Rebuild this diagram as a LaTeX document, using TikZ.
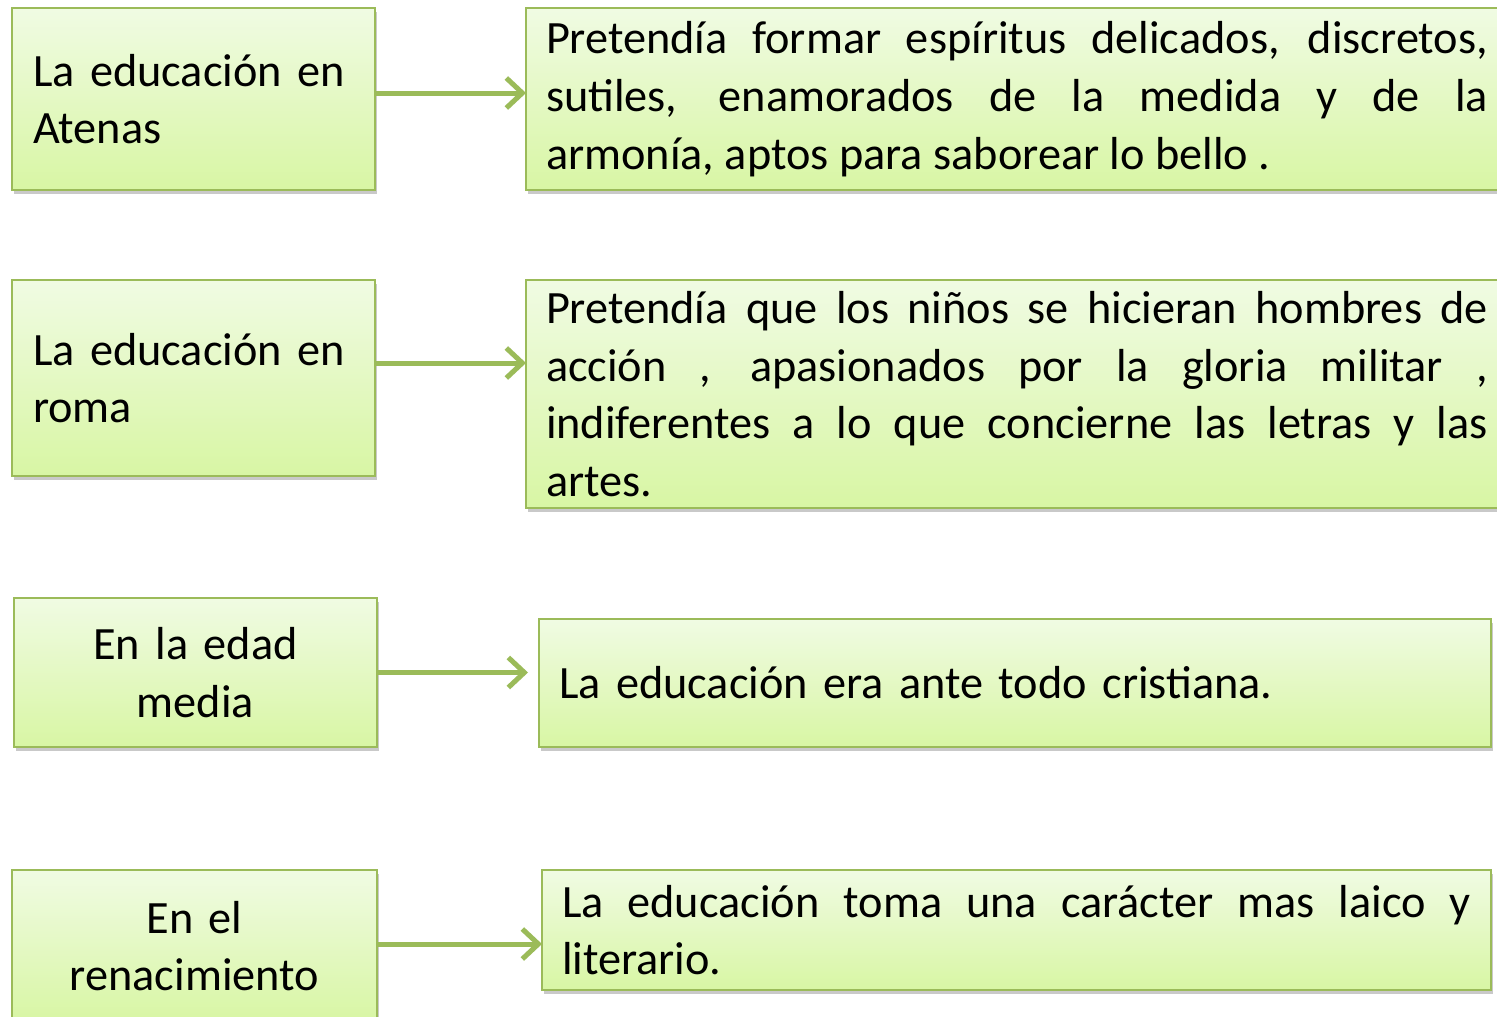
\documentclass[tikz,border=0pt]{standalone}
\usepackage{fontspec}
\setmainfont{Carlito}
\usetikzlibrary{arrows.meta,shadows}
\definecolor{boxtop}{HTML}{F0FBE3}
\definecolor{boxbot}{HTML}{D8F6A4}
\definecolor{boxline}{HTML}{9BBB59}
\tikzset{
  box/.style={anchor=north west, draw=boxline, line width=2.5pt, top color=boxtop, bottom color=boxbot,
    outer sep=0pt, inner ysep=0pt, font=\fontsize{46.3}{57.7}\selectfont,
    drop shadow={shadow xshift=2pt, shadow yshift=-4pt, opacity=0.35, fill=black!60}},
  lbox/.style={box, inner xsep=21pt},
  rbox/.style={box, inner xsep=20pt, align=justify},
  conn/.style={draw=boxline, line width=5pt, -{Straight Barb[length=16pt,width=30pt]}}
}
\begin{document}
\begin{tikzpicture}[x=1pt,y=-1pt]
\clip (0,0) rectangle (1497,1017);
\fill[white] (0,0) rectangle (1497,1017);
% left boxes
\node[lbox, minimum width=363pt, minimum height=182pt, text width=321pt, align=left] (la) at (12,8) {La educación en\\Atenas};
\node[lbox, minimum width=363pt, minimum height=196pt, text width=321pt, align=left] (lb) at (12,280) {La educación en\\roma};
\node[lbox, minimum width=363pt, minimum height=149pt, text width=321pt, align=center] (lc) at (14,598) {En la edad\\media};
\node[lbox, minimum width=365pt, minimum height=152pt, text width=323pt, align=center] (ld) at (12,870) {En el\\renacimiento};
% right boxes
\node[rbox, minimum width=982pt, minimum height=182pt, text width=942pt] (ra) at (526,8)
 {Pretendía formar espíritus delicados, discretos,\linebreak sutiles, enamorados de la medida y de la\linebreak armonía, aptos para saborear lo bello .};
\node[rbox, minimum width=982pt, minimum height=228pt, text width=942pt] (rb) at (526,280)
 {Pretendía que los niños se hicieran hombres de\linebreak acción , apasionados por la gloria militar ,\linebreak indiferentes a lo que concierne las letras y las\linebreak artes.};
\node[rbox, minimum width=952pt, minimum height=128pt, text width=912pt, align=left] (rc) at (539,619)
 {La educación era ante todo cristiana.};
\node[rbox, minimum width=949pt, minimum height=120pt, text width=909pt] (rd) at (542,870)
 {La educación toma una carácter mas laico y\linebreak literario.};
% connectors
\draw[conn] ([yshift=6pt]la.east) -- ([yshift=6pt]la.east -| ra.west);
\draw[conn] ([yshift=15pt]lb.east) -- ([yshift=15pt]lb.east -| rb.west);
\draw[conn, shorten >=11pt] (lc.east) -- (lc.east -| rc.west);
\draw[conn] ([yshift=2pt]ld.east) -- ([yshift=2pt]ld.east -| rd.west);
\end{tikzpicture}
\end{document}
